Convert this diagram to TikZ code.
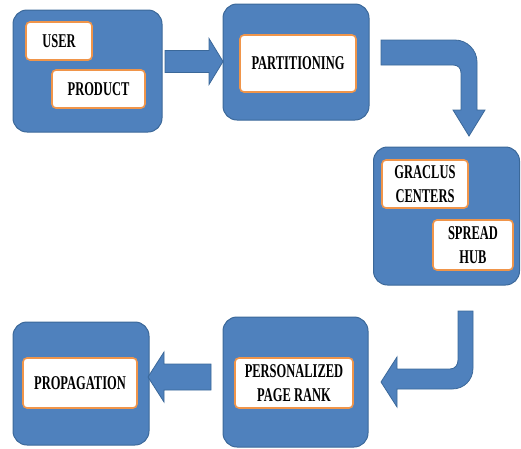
\documentclass[tikz,border=0pt]{standalone}
\usepackage{fontspec}
\newfontfamily\lbl{Liberation Serif}[FakeStretch=0.64]
\definecolor{boxblue}{HTML}{4F81BD}
\definecolor{boxline}{HTML}{3B6899}
\definecolor{inorange}{HTML}{F0954A}
\begin{document}
\begin{tikzpicture}[x=1pt,y=-1pt,
  bigbox/.style={draw=boxline, fill=boxblue, rounded corners=14pt, line width=1pt, inner sep=0pt},
  inbox/.style={draw=inorange, fill=white, rounded corners=4pt, line width=1.6pt, align=center,
    font=\lbl\bfseries\fontsize{19.5}{24.5}\selectfont, inner sep=0pt},
  blockarrow/.style={fill=boxblue, draw=boxline, line width=0.8pt, line join=miter}]
\useasboundingbox (0,0) rectangle (521,448);
% outer boxes
\node[bigbox, minimum width=149pt, minimum height=122pt] (b1) at (87.5,71) {};
\node[bigbox, minimum width=146pt, minimum height=116pt] (b2) at (296,62) {};
\node[bigbox, minimum width=146pt, minimum height=138pt] (b3) at (446.5,216) {};
\node[bigbox, minimum width=145pt, minimum height=130pt] (b4) at (295.5,382) {};
\node[bigbox, minimum width=136pt, minimum height=123pt] (b5) at (81,383.5) {};
% inner boxes
\node[inbox, minimum width=66pt, minimum height=38pt] (user) at (59,41) {USER};
\node[inbox, minimum width=93pt, minimum height=38pt] (product) at (98.5,89) {PRODUCT};
\node[inbox, minimum width=116pt, minimum height=57pt] (part) at (298,63.5) {PARTITIONING};
\node[inbox, minimum width=86pt, minimum height=48pt] (graclus) at (425,184) {GRACLUS\\CENTERS};
\node[inbox, minimum width=80pt, minimum height=50pt] (spread) at (473,245) {SPREAD\\HUB};
\node[inbox, minimum width=118pt, minimum height=50pt] (ppr) at (294,383) {PERSONALIZED\\PAGE RANK};
\node[inbox, minimum width=114pt, minimum height=50pt] (prop) at (80,383) {PROPAGATION};
% arrows
\filldraw[blockarrow] (165,50.5) -- (209,50.5) -- (209,38.5) -- (223,61.5) -- (209,84.5) -- (209,72.5) -- (165,72.5) -- cycle;
\filldraw[blockarrow] (381,40) -- (455,40) .. controls (467,40) and (477,50) .. (477,62)
  -- (477,110) -- (485,110) -- (469,136) -- (453,110) -- (461,110) -- (461,73)
  .. controls (461,68) and (458,65) .. (453,65) -- (381,65) -- cycle;
\filldraw[blockarrow] (458,311) -- (473,311) -- (473,368) .. controls (473,380) and (464,389) .. (452,389)
  -- (397,389) -- (397,407) -- (381,382) -- (397,357) -- (397,369) -- (450,369)
  .. controls (455,369) and (458,365) .. (458,360) -- cycle;
\filldraw[blockarrow] (211,364) -- (164,364) -- (164,352) -- (148,377) -- (164,402) -- (164,390) -- (211,390) -- cycle;
\end{tikzpicture}
\end{document}
